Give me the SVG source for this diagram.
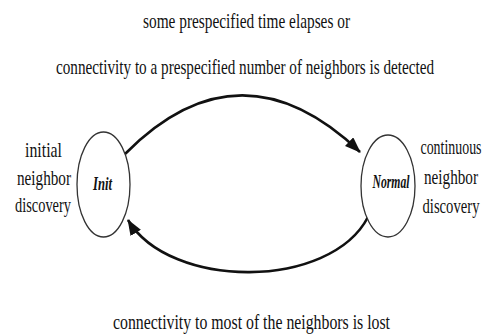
<svg xmlns="http://www.w3.org/2000/svg" width="493" height="335" viewBox="0 0 493 335">
<style>
text{font-family:"Liberation Serif","DejaVu Serif",serif;fill:#111;}
.lbl{font-size:22px;}
.side{font-size:22px;text-anchor:middle;}
.state{font-size:18px;font-style:italic;font-weight:bold;text-anchor:middle;}
.node ellipse{fill:#fff;stroke:#333;stroke-width:1.3;}
.edge{fill:none;stroke:#111;stroke-width:2.6;}
</style>
<defs>
<marker id="ah" viewBox="0 0 16 12" refX="15" refY="6" markerWidth="16" markerHeight="12" markerUnits="userSpaceOnUse" orient="auto">
<path d="M0,0 L16,6 L0,12 z" fill="#111"/>
</marker>
</defs>
<text class="lbl" x="143" y="28" textLength="207" lengthAdjust="spacingAndGlyphs">some prespecified  time elapses  or</text>
<text class="lbl" x="56" y="74" textLength="378" lengthAdjust="spacingAndGlyphs">connectivity to a prespecified  number of neighbors  is  detected</text>
<text class="lbl" x="113" y="329" textLength="277" lengthAdjust="spacingAndGlyphs">connectivity  to most of the neighbors is lost</text>
<g id="connectors">
<path class="edge" d="M125,154 Q240,38 360,152" marker-end="url(#ah)"/>
<path class="edge" d="M368,217 C330,290 170,290 128,220" marker-end="url(#ah)"/>
</g>
<g id="init" class="node">
<ellipse cx="103.5" cy="184.5" rx="26.5" ry="52.5"/>
<text class="state" x="102.5" y="190" textLength="19" lengthAdjust="spacingAndGlyphs">Init</text>
</g>
<g id="normal" class="node">
<ellipse cx="388" cy="186" rx="27" ry="51"/>
<text class="state" x="391" y="188" font-weight="normal" textLength="37" lengthAdjust="spacingAndGlyphs">Normal</text>
</g>
<g id="init-label">
<text class="side" x="43.5" y="157" textLength="37" lengthAdjust="spacingAndGlyphs">initial</text>
<text class="side" x="44" y="185" textLength="54" lengthAdjust="spacingAndGlyphs">neighbor</text>
<text class="side" x="43" y="212" textLength="56" lengthAdjust="spacingAndGlyphs">discovery</text>
</g>
<g id="normal-label">
<text class="side" x="451" y="154" textLength="61" lengthAdjust="spacingAndGlyphs">continuous</text>
<text class="side" x="451" y="184" textLength="54" lengthAdjust="spacingAndGlyphs">neighbor</text>
<text class="side" x="451" y="213" textLength="57" lengthAdjust="spacingAndGlyphs">discovery</text>
</g>
</svg>
